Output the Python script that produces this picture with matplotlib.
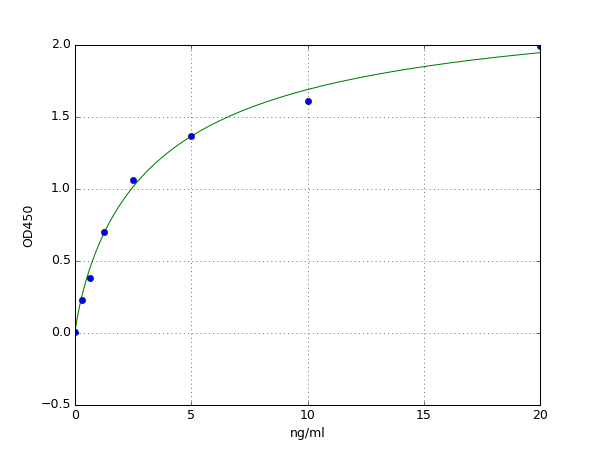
import numpy as np
import matplotlib
matplotlib.use('Agg')
import matplotlib.pyplot as plt

plt.style.use('classic')

# standard points
conc = [0, 0.3125, 0.625, 1.25, 2.5, 5, 10, 20]
od = [0.01, 0.23, 0.38, 0.70, 1.06, 1.37, 1.61, 1.99]

# 4PL fit parameters (bottom, slope, midpoint, top)
a, b, c, d = 0.0, 0.85, 3.6, 2.4

xs = np.linspace(0, 20, 400)
fit = d + (a - d) / (1 + (xs / c) ** b)

fig = plt.figure(figsize=(8, 6), dpi=75)
ax = fig.add_subplot(111)
ax.plot(xs, fit, 'g-')
ax.plot(conc, od, 'bo', markersize=6)
ax.set_xlim(0, 20)
ax.set_ylim(-0.5, 2.0)
ax.set_xlabel('ng/ml')
ax.set_ylabel('OD450')
ax.grid(True)
fig.savefig('out.png', dpi=75)
